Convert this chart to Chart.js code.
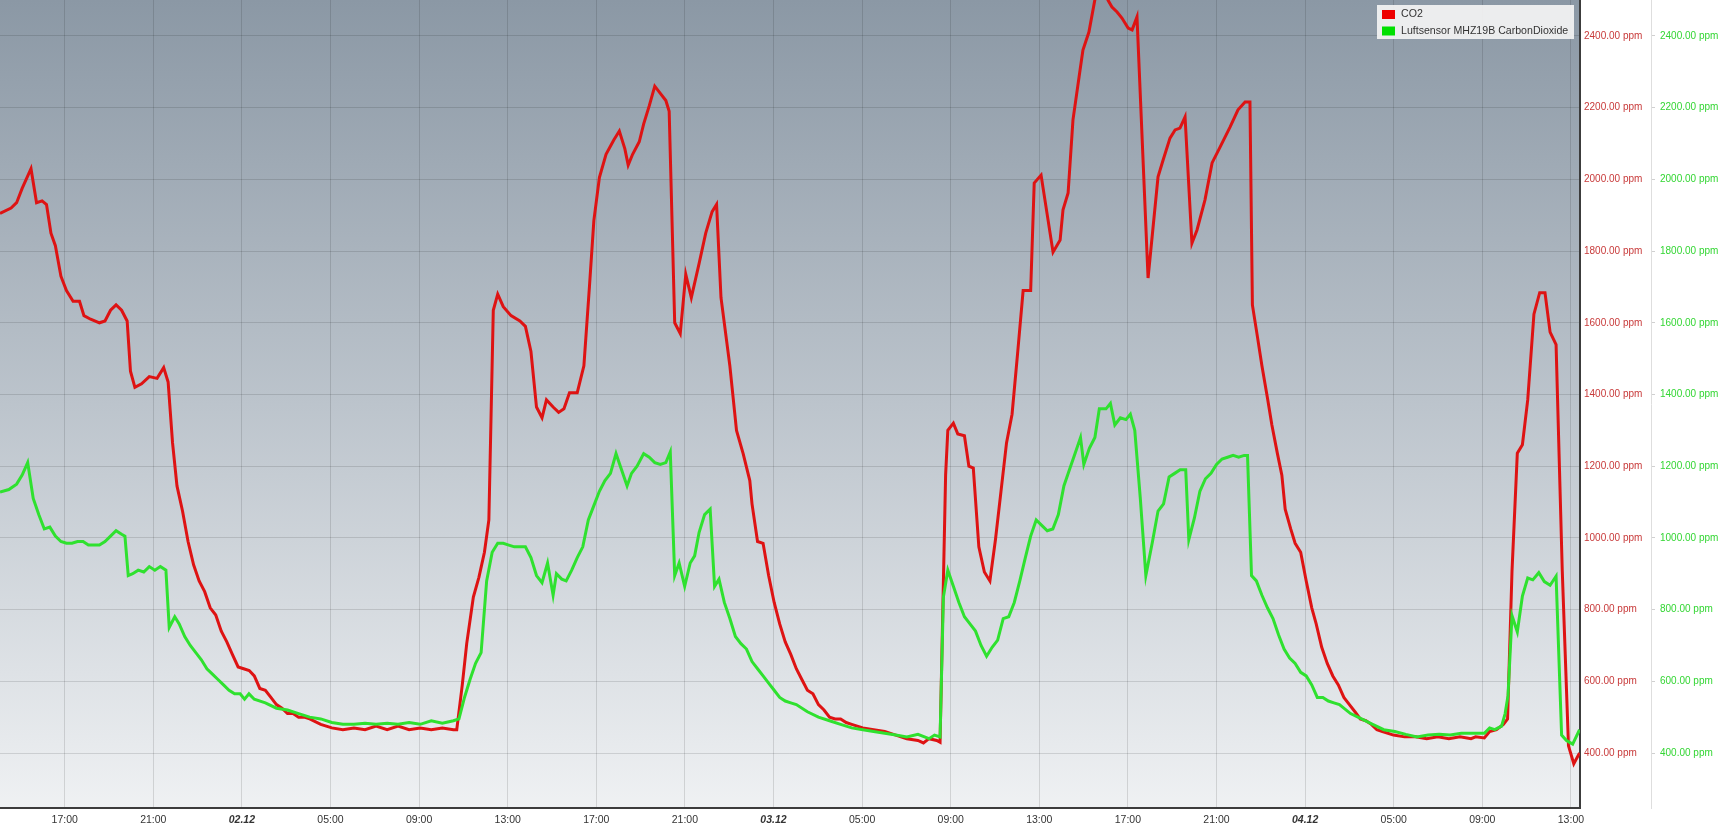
<!DOCTYPE html>
<html>
<head>
<meta charset="utf-8">
<script src="https://cdn.jsdelivr.net/npm/chart.js@4.4.1/dist/chart.umd.min.js"></script>
<style>
  html, body { margin: 0; padding: 0; background: #ffffff; }
  #wrap { position: relative; width: 1734px; height: 834px; }
</style>
</head>
<body>
<div id="wrap"><canvas id="c" width="1734" height="834"></canvas></div>
<script>
// ---- Data (time in hours since 01.12 00:00, values in ppm) ----
const seriesNames = ['CO2', 'Luftsensor MHZ19B CarbonDioxide'];

const co2Times = [
  14.08,14.58,14.83,15.08,15.48,15.73,15.98,16.18,16.38,16.58,
  16.83,17.08,17.38,17.67,17.87,18.17,18.57,18.82,19.07,19.32,
  19.57,19.82,19.97,20.17,20.47,20.82,21.17,21.47,21.67,21.87,
  22.07,22.32,22.57,22.82,23.07,23.32,23.57,23.82,24.07,24.32,
  24.57,24.83,25.08,25.33,25.56,25.81,26.06,26.31,26.56,26.81,
  27.06,27.31,27.56,27.81,28.06,28.56,29.06,29.56,30.06,30.56,
  31.06,31.56,32.05,32.55,33.05,33.55,34.05,34.55,34.70,34.95,
  35.15,35.45,35.70,35.95,36.15,36.35,36.55,36.80,37.15,37.55,
  37.80,38.05,38.30,38.55,38.75,39.05,39.30,39.54,39.79,40.14,
  40.44,40.69,40.89,41.14,41.44,41.79,42.04,42.29,42.44,42.64,
  42.94,43.14,43.39,43.64,43.89,44.14,44.29,44.54,44.79,45.04,
  45.29,45.64,45.94,46.23,46.43,46.63,47.03,47.33,47.63,47.93,
  48.03,48.28,48.53,48.78,49.03,49.28,49.53,49.78,50.03,50.28,
  50.53,50.78,51.03,51.28,51.53,51.78,52.03,52.28,52.53,53.03,
  53.52,54.02,54.52,55.02,55.52,55.77,56.02,56.37,56.52,56.77,
  56.87,57.12,57.32,57.62,57.82,58.02,58.27,58.52,58.77,59.02,
  59.27,59.52,59.77,60.02,60.27,60.61,60.77,61.08,61.62,61.94,
  62.07,62.30,62.52,62.84,62.97,63.24,63.52,63.83,64.10,64.28,
  64.51,64.73,65.01,65.19,65.41,65.91,66.36,66.59,66.90,67.13,
  67.35,67.58,67.89,68.12,68.48,68.80,69.16,69.61,69.97,70.29,
  70.51,70.62,70.85,71.05,71.30,71.50,71.75,71.95,72.10,72.35,
  72.55,72.80,73.05,73.30,73.50,73.75,74.00,74.25,74.50,74.75,
  75.00,75.25,75.49,75.74,75.99,76.24,76.49,76.99,77.49,77.99,
  78.49,78.99,79.49,79.99,80.49,80.70,81.09,81.33,81.64,81.95,
  82.14,82.34,82.58,82.81,83.05,83.33,83.59,83.83,84.06,84.33,
  84.61,84.89,85.13,85.39
];
const co2Values = [
  1905,1920,1935,1975,2030,1935,1940,1930,1850,1815,
  1730,1690,1660,1660,1620,1610,1600,1605,1635,1650,
  1635,1605,1465,1420,1430,1450,1445,1475,1435,1265,
  1145,1075,990,925,880,850,805,785,740,710,
  675,640,635,630,615,580,575,555,535,525,
  510,510,500,500,495,480,470,465,470,465,
  475,465,475,465,470,465,470,465,465,590,
  705,835,890,960,1050,1635,1680,1645,1620,1605,
  1590,1520,1365,1335,1385,1365,1350,1360,1405,1405,
  1480,1700,1885,2005,2070,2110,2135,2085,2040,2070,
  2105,2155,2205,2260,2240,2220,2190,1600,1570,1735,
  1670,1765,1850,1910,1930,1670,1480,1300,1235,1160,
  1095,990,985,895,820,760,710,675,635,605,
  575,565,535,520,500,495,495,485,480,470,
  465,460,450,440,435,428,440,435,430,1175,
  1300,1320,1290,1285,1200,1195,975,905,880,995,
  1130,1265,1345,1515,1690,1690,1990,2012,1797,1831,
  1915,1962,2166,2305,2361,2411,2505,2560,2500,2481,
  2467,2450,2422,2417,2453,1725,2007,2054,2115,2138,
  2143,2174,1822,1859,1943,2046,2090,2146,2194,2216,
  2216,1650,1560,1480,1390,1315,1235,1175,1080,1025,
  985,960,880,805,760,695,650,615,590,555,
  535,515,495,490,480,465,460,450,445,445,
  440,445,440,445,440,445,442,460,465,480,
  495,907,1236,1260,1385,1624,1684,1684,1574,1539,
  907,420,370,400
];

const mhzTimes = [
  14.08,14.48,14.83,15.08,15.33,15.58,15.83,16.08,16.33,16.58,
  16.83,17.08,17.33,17.58,17.83,18.07,18.32,18.57,18.82,19.07,
  19.32,19.57,19.72,19.87,20.07,20.32,20.57,20.82,21.07,21.32,
  21.57,21.72,21.97,22.17,22.42,22.67,22.92,23.17,23.42,23.67,
  23.92,24.17,24.42,24.67,24.92,25.12,25.32,25.56,26.06,26.56,
  27.06,27.56,28.06,28.56,29.06,29.56,30.06,30.56,31.06,31.56,
  32.05,32.55,33.05,33.55,34.05,34.55,34.80,35.05,35.30,35.55,
  35.80,36.05,36.30,36.55,36.80,37.05,37.30,37.55,37.80,38.05,
  38.30,38.55,38.80,39.05,39.20,39.44,39.64,39.89,40.14,40.39,
  40.64,40.89,41.14,41.39,41.64,41.89,42.14,42.39,42.59,42.84,
  43.14,43.39,43.64,43.89,44.14,44.34,44.54,44.74,44.99,45.24,
  45.44,45.64,45.89,46.14,46.34,46.54,46.78,47.03,47.28,47.53,
  47.78,48.03,48.28,48.53,48.78,49.03,49.28,49.53,49.78,50.03,
  50.53,51.03,51.53,52.03,52.53,53.03,53.52,54.02,54.52,55.02,
  55.52,56.02,56.27,56.52,56.67,56.87,57.12,57.37,57.62,57.87,
  58.12,58.37,58.62,58.87,59.12,59.37,59.62,59.87,60.12,60.37,
  60.61,60.86,61.11,61.36,61.61,61.86,62.11,62.36,62.61,62.86,
  63.01,63.26,63.51,63.71,64.01,64.21,64.41,64.66,64.91,65.11,
  65.31,65.56,65.81,66.11,66.36,66.61,66.86,67.11,67.36,67.61,
  67.75,68.00,68.25,68.50,68.75,69.00,69.25,69.50,69.75,70.00,
  70.25,70.40,70.58,70.80,71.05,71.30,71.55,71.80,72.05,72.30,
  72.55,72.80,73.05,73.30,73.55,73.80,74.05,74.30,74.55,75.05,
  75.55,76.05,76.55,77.05,77.55,78.05,78.55,79.05,79.55,80.05,
  80.70,81.09,81.33,81.56,81.87,82.03,82.16,82.34,82.58,
  82.81,83.05,83.28,83.55,83.80,84.06,84.33,84.58,84.80,85.08,
  85.39
];
const mhzValues = [
  1128,1135,1150,1175,1210,1110,1065,1025,1030,1005,
  990,985,985,990,990,980,980,980,990,1005,
  1020,1010,1005,895,900,910,905,920,910,920,
  910,750,780,760,725,700,680,660,635,620,
  605,590,575,565,565,550,565,550,540,525,
  520,510,500,495,485,480,480,483,480,483,
  480,485,480,490,483,490,495,555,605,650,
  680,880,960,985,985,980,975,975,975,945,
  895,875,930,840,900,885,880,910,945,975,
  1050,1090,1130,1160,1180,1235,1190,1145,1180,1200,
  1235,1225,1210,1205,1210,1240,895,930,865,930,
  950,1015,1065,1080,865,885,820,775,725,705,
  690,655,635,615,595,575,555,545,540,535,
  515,500,490,480,470,465,460,455,450,445,
  452,440,450,445,835,910,865,820,780,760,
  740,700,670,695,715,775,780,820,880,945,
  1005,1050,1035,1020,1025,1065,1145,1190,1235,1280,
  1205,1250,1280,1360,1360,1375,1315,1335,1330,1345,
  1300,1110,895,990,1075,1095,1170,1180,1190,1190,
  995,1055,1130,1165,1180,1205,1220,1225,1230,1225,
  1230,1230,895,880,840,805,775,730,690,665,
  650,625,615,590,555,555,545,540,535,510,
  495,480,465,460,452,445,450,452,450,455,
  455,455,470,465,475,510,560,783,738,
  838,888,883,903,878,868,893,450,435,425,
  465
];

// axis ticks
const xTickHours = [17,21,25,29,33,37,41,45,49,53,57,61,65,69,73,77,81,85];
const dateLabels = { 25: '02.12', 49: '03.12', 73: '04.12' };
const yTickValues = [400,600,800,1000,1200,1400,1600,1800,2000,2200,2400];
const xRange = [14.08, 85.41];
const yRange = [246.6, 2500.4];

// ---- build ----
function pts(t, v) { return t.map((x, i) => ({ x: x, y: v[i] })); }
function hourLabel(h) {
  if (dateLabels[h]) return dateLabels[h];
  const hh = h % 24;
  return (hh < 10 ? '0' : '') + hh + ':00';
}
const RED = '#de1313';
const GREEN = '#2fe12f';
const GRID = 'rgba(0,0,0,0.12)';
const FONT = "'Liberation Sans', Arial, sans-serif";

const bgPlugin = {
  id: 'bg',
  beforeDraw(chart) {
    const { ctx, chartArea: a } = chart;
    const g = ctx.createLinearGradient(0, a.top, 0, a.bottom);
    g.addColorStop(0, '#8b98a5');
    g.addColorStop(0.5, '#bcc4cc');
    g.addColorStop(1, '#eff1f3');
    ctx.save();
    ctx.fillStyle = g;
    ctx.fillRect(a.left, a.top, a.right - a.left, a.bottom - a.top);
    ctx.restore();
  }
};

const legendPlugin = {
  id: 'boxLegend',
  afterDraw(chart) {
    const ctx = chart.ctx;
    const a = chart.chartArea;
    const bx = a.right - 203, by = 5, bw = 197, bh = 34;
    ctx.save();
    ctx.fillStyle = 'rgba(243,243,243,0.93)';
    ctx.fillRect(bx, by, bw, bh);
    ctx.font = '10.6px ' + FONT;
    ctx.textBaseline = 'middle';
    chart.data.datasets.forEach((ds, i) => {
      const ry = by + 5 + i * 16.5;
      ctx.fillStyle = ds.legendColor;
      ctx.fillRect(bx + 5, ry, 13, 9);
      ctx.fillStyle = '#333333';
      ctx.fillText(ds.label, bx + 24, ry + 4.5);
    });
    ctx.restore();
  }
};

function fixPad(scale) {
  scale.paddingTop = 0; scale.paddingBottom = 0;
  scale.paddingLeft = 0; scale.paddingRight = 0;
}

new Chart(document.getElementById('c'), {
  type: 'line',
  data: {
    datasets: [
      { label: seriesNames[0], data: pts(co2Times, co2Values), borderColor: RED, legendColor: '#ee0000',
        borderWidth: 3, pointRadius: 0, tension: 0, yAxisID: 'y', order: 1 },
      { label: seriesNames[1], data: pts(mhzTimes, mhzValues), borderColor: GREEN, legendColor: '#00e000',
        borderWidth: 3, pointRadius: 0, tension: 0, yAxisID: 'y2', order: 0 }
    ]
  },
  options: {
    responsive: false,
    animation: false,
    layout: { padding: 0 },
    plugins: { legend: { display: false }, tooltip: { enabled: false } },
    scales: {
      x: {
        type: 'linear', position: 'bottom', min: xRange[0], max: xRange[1],
        afterBuildTicks(s) { s.ticks = xTickHours.map(v => ({ value: v })); },
        afterFit(s) { s.height = 26; fixPad(s); },
        grid: { color: GRID, drawTicks: false },
        border: { display: true, color: '#3c3c3c', width: 2 },
        ticks: {
          padding: 6, color: '#333333', maxRotation: 0, autoSkip: false,
          font: (ctx) => ({ family: FONT, size: 10.5,
            style: (ctx.tick && dateLabels[ctx.tick.value]) ? 'italic' : 'normal',
            weight: (ctx.tick && dateLabels[ctx.tick.value]) ? 'bold' : 'normal' }),
          callback: (v) => hourLabel(v)
        }
      },
      y: {
        type: 'linear', position: 'right', min: yRange[0], max: yRange[1], weight: 0,
        afterBuildTicks(s) { s.ticks = yTickValues.map(v => ({ value: v })); },
        afterFit(s) { s.width = 71; fixPad(s); },
        grid: { color: GRID, drawTicks: false },
        border: { display: true, color: '#3c3c3c', width: 2 },
        ticks: { padding: 4, color: '#c83a3a', font: { family: FONT, size: 10 },
          callback: (v) => v.toFixed(2) + ' ppm' }
      },
      y2: {
        type: 'linear', position: 'right', min: yRange[0], max: yRange[1], weight: 1,
        afterBuildTicks(s) { s.ticks = yTickValues.map(v => ({ value: v })); },
        afterFit(s) { s.width = 83; fixPad(s); },
        grid: { drawOnChartArea: false, drawTicks: true, tickLength: 4, color: '#d0d0d0' },
        border: { display: true, color: '#dedede', width: 1 },
        ticks: { padding: 5, color: '#33d633', font: { family: FONT, size: 10 },
          callback: (v) => v.toFixed(2) + ' ppm' }
      }
    }
  },
  plugins: [bgPlugin, legendPlugin]
});
</script>
</body>
</html>
